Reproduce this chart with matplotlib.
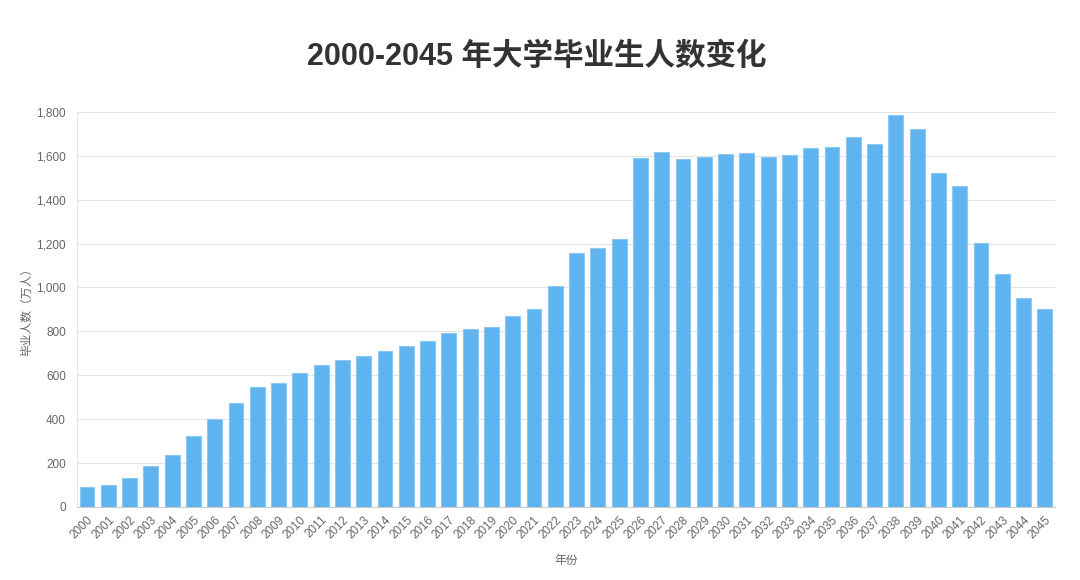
import numpy as np
import matplotlib.pyplot as plt
from matplotlib.ticker import FuncFormatter

plt.rcParams['font.family'] = ['Liberation Sans', 'Noto Sans CJK SC', 'DejaVu Sans']

years = [str(y) for y in range(2000, 2046)]
graduates = [91, 100, 132, 187, 237, 324, 401, 474, 547, 565,
             611, 647, 670, 688, 711, 734, 757, 793, 811, 820,
             871, 902, 1007, 1158, 1180, 1222, 1591, 1618, 1586, 1595,
             1609, 1614, 1595, 1604, 1636, 1641, 1686, 1654, 1787, 1723,
             1522, 1463, 1203, 1062, 953, 902]

fig = plt.figure(figsize=(10.8, 5.8), dpi=100)
ax = fig.add_axes([0.0713, 0.126, 0.906, 0.681])

x = np.arange(len(years))
ax.bar(x, graduates, width=0.7, color='#5fb4ef', edgecolor='#8cc8f3', linewidth=0.8, zorder=3)

ax.set_xlim(-0.47, 45.5)
ax.set_ylim(0, 1800)
ax.set_yticks(range(0, 1801, 200))
ax.yaxis.set_major_formatter(FuncFormatter(lambda v, p: f'{int(v):,}'))
ax.set_xticks(x)
ax.set_xticklabels(years, rotation=45, ha='right', rotation_mode='anchor')
ax.tick_params(axis='both', length=0, labelsize=8.5, colors='#666666')
ax.tick_params(axis='x', pad=5)
ax.tick_params(axis='y', pad=8)

ax.grid(axis='y', color='#e6e6e6', linewidth=0.8, zorder=0)
for s in ['top', 'right']:
    ax.spines[s].set_visible(False)
ax.spines['left'].set_color('#e6e6e6')
ax.spines['bottom'].set_color('#cccccc')

ax.set_ylabel('毕业人数（万人）', fontsize=8.5, color='#666666', family=['Noto Sans CJK SC'], labelpad=2)
ax.set_xlabel('年份', fontsize=8.5, color='#666666', family=['Noto Sans CJK SC'], labelpad=9)

fig.text(0.497, 0.902, '2000-2045 年大学毕业生人数变化', ha='center', va='center',
         fontsize=22, fontweight='bold', color='#333333',
         family=['Liberation Sans', 'Noto Sans CJK SC', 'DejaVu Sans'])

fig.savefig('out.png', dpi=100, facecolor='white')
